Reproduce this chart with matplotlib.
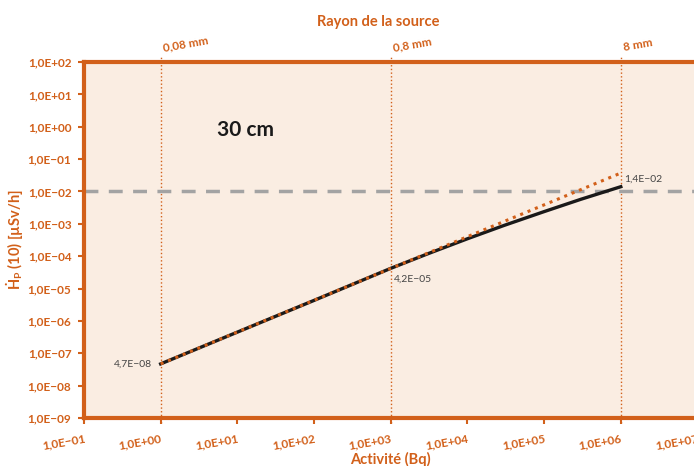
import numpy as np
import matplotlib
matplotlib.use("Agg")
import matplotlib.pyplot as plt

# data
activity = [1e0, 1e1, 1e2, 1e3, 3e3, 1e4, 3e4, 1e5, 3e5, 1e6]
dose_30cm = [4.7e-8, 4.5e-7, 4.3e-6, 4.2e-5, 1.17e-4, 3.45e-4, 8.9e-4, 2.38e-3, 5.7e-3, 1.4e-2]
activity_lin = [1e0, 1e6]
dose_lin = [4.7e-8, 3.7e-2]
limit = 1e-2

x_ticks = [1e-1, 1e0, 1e1, 1e2, 1e3, 1e4, 1e5, 1e6, 1e7]
x_labels = ["1,0E−01", "1,0E+00", "1,0E+01", "1,0E+02", "1,0E+03",
            "1,0E+04", "1,0E+05", "1,0E+06", "1,0E+07"]
y_ticks = [1e-9, 1e-8, 1e-7, 1e-6, 1e-5, 1e-4, 1e-3, 1e-2, 1e-1, 1e0, 1e1, 1e2]
y_labels = ["1,0E−09", "1,0E−08", "1,0E−07", "1,0E−06", "1,0E−05", "1,0E−04",
            "1,0E−03", "1,0E−02", "1,0E−01", "1,0E+00", "1,0E+01", "1,0E+02"]
radius_pos = [1e0, 1e3, 1e6]
radius_labels = ["0,08 mm", "0,8 mm", "8 mm"]
point_labels = ["4,7E−08", "4,2E−05", "1,4E−02"]
point_x = [1e0, 1e3, 1e6]
point_y = [4.7e-8, 4.2e-5, 1.4e-2]

orange = "#D2601A"
plt.rcParams['font.family'] = ['Lato', 'DejaVu Sans']

fig = plt.figure(figsize=(6.94, 4.66), dpi=100)
ax = fig.add_axes([0.121, 0.103, 0.884, 0.764])
ax.set_facecolor("#FAEDE2")
ax.set_xscale("log")
ax.set_yscale("log")
ax.set_xlim(1e-1, 1e7)
ax.set_ylim(1e-9, 1e2)

for s in ax.spines.values():
    s.set_color(orange)
    s.set_linewidth(3)

ax.set_xticks(x_ticks)
ax.set_xticklabels(x_labels, rotation=10, ha="right", rotation_mode="anchor")
ax.set_yticks(y_ticks)
ax.set_yticklabels(y_labels)
ax.minorticks_off()
ax.tick_params(colors=orange, labelsize=8.5, length=4, width=1.5)
for lab in ax.get_xticklabels() + ax.get_yticklabels():
    lab.set_fontweight("bold")
ax.tick_params(axis="x", pad=7)
ax.tick_params(axis="y", pad=5)

# radius markers
for xv, lab in zip(radius_pos, radius_labels):
    ax.axvline(xv, ymin=-0.015, ymax=1.015, color=orange, lw=1, ls=":", clip_on=False)
    ax.text(xv * 1.12, 1.025, lab, transform=ax.get_xaxis_transform(), rotation=10,
            rotation_mode="anchor", ha="left", va="bottom", color=orange,
            fontsize=8.5, fontweight="bold")

ax.axhline(limit, color="#A3A3A3", lw=2.5, dashes=(4, 3))
ax.plot(activity, dose_30cm, color="#1a1a1a", lw=2.4)
ax.plot(activity_lin, dose_lin, color=orange, lw=2.2, ls=(0, (1, 1.6)))

ax.text(point_x[0] / 1.3, point_y[0], point_labels[0], ha="right", va="center",
        fontsize=7.5, color="#444444")
ax.text(point_x[1] * 1.1, point_y[1] / 2.2, point_labels[1], ha="left", va="center",
        fontsize=7.5, color="#444444")
ax.text(point_x[2] * 1.1, point_y[2] * 1.7, point_labels[2], ha="left", va="center",
        fontsize=7.5, color="#444444")

ax.text(0.263, 0.81, "30 cm", transform=ax.transAxes, ha="center", va="center",
        fontsize=15, fontweight="bold", color="#1a1a1a")

ax.set_xlabel("Activité (Bq)", color=orange, fontsize=10.5, fontweight="bold", labelpad=0)
ax.set_ylabel("Ḣ$_\\mathregular{P}$ (10) [µSv/h]", color=orange, fontsize=10.5,
              fontweight="bold", labelpad=2)
fig.text(0.545, 0.953, "Rayon de la source", ha="center", va="center",
         color=orange, fontsize=10.5, fontweight="bold")

fig.savefig("out.png", dpi=100)
